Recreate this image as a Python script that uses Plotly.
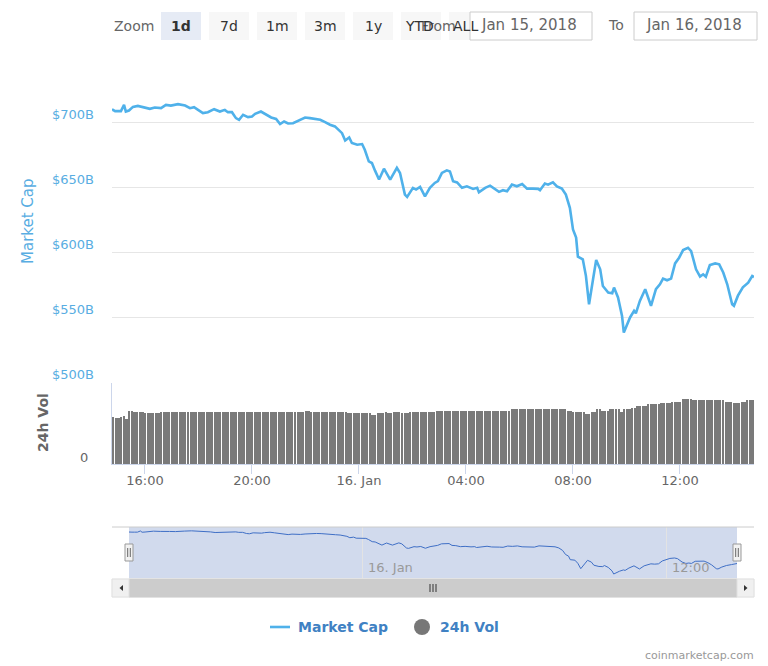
import pandas as pd
import plotly.graph_objects as go

# ---------------- data ----------------
START = pd.Timestamp("2018-01-15 14:46")
END = pd.Timestamp("2018-01-16 14:46")

# market cap (billions USD), minutes after START
mcap_minutes = [0, 2, 7, 13, 20, 27, 31, 38, 47, 58, 74, 85, 96, 110, 121, 132, 148, 164, 175, 184,
                193, 204, 215, 229, 242, 253, 260, 269, 278, 285, 294, 305, 314, 321, 334, 345, 357, 368, 377, 386,
                395, 406, 417, 433, 444, 455, 467, 478, 489, 500, 511, 516, 523, 532, 538, 550, 561, 567, 576, 583,
                590, 599, 610, 624, 639, 646, 657, 662, 675, 682, 691, 702, 713, 724, 731, 740, 751, 758, 765, 774,
                785, 796, 810, 819, 823, 837, 848, 859, 868, 877, 886, 897, 908, 920, 931, 944, 956, 960, 971, 978,
                989, 998, 1009, 1018, 1027, 1034, 1041, 1045, 1056, 1063, 1070, 1079, 1086, 1095, 1101, 1113, 1122, 1126, 1135, 1144,
                1148, 1162, 1171, 1175, 1184, 1196, 1200, 1209, 1220, 1229, 1236, 1245, 1254, 1263, 1272, 1281, 1292, 1299, 1310, 1319,
                1326, 1332, 1341, 1353, 1362, 1371, 1380, 1391, 1395, 1404, 1415, 1427, 1436, 1440]
mcap_values = [709.5, 710, 709, 709, 709, 713.8, 708.7, 709.5, 712.3, 713, 712, 710.8, 711.8, 711.3, 713.8, 713.3, 714.4, 713.3, 711.3, 712,
               710, 707.5, 708.2, 710.5, 708.7, 710, 708.2, 708.2, 703.6, 702.3, 706.2, 704.4, 704.9, 706.9, 708.7, 706.2, 704.1, 703, 699, 701,
               699.5, 699.7, 701.5, 704.1, 703.6, 703, 702.3, 700.5, 698.5, 697.2, 694.1, 692, 686.4, 688.7, 684.4, 683.1, 683.6, 679.2, 670.2, 669,
               663.1, 656.2, 664.6, 656.2, 665.2, 661.3, 644.6, 642.8, 649.8, 648.5, 650.5, 643.3, 649.8, 653.6, 655, 661.3, 663.3, 662.5, 654.9, 654,
               649.8, 651, 649, 649.8, 646.4, 649.8, 651.5, 648.5, 646.7, 648, 647.2, 652.3, 651, 652.8, 649.2, 649.2, 649, 648, 653.1, 652.3,
               654.1, 651, 649.2, 644.6, 634.4, 617.7, 611.4, 596.7, 594.7, 581.9, 560, 579.3, 594.1, 587, 574.1, 569, 568.5, 572.9, 565.2, 551,
               538.2, 549.8, 554.9, 553, 562.6, 571.6, 567.7, 558.8, 571.6, 575.4, 579.8, 578.5, 579.8, 591.5, 595.9, 601.8, 603.6, 601, 587, 581.3,
               583.1, 581.3, 590.2, 591.5, 590.8, 584.5, 575.4, 560, 558.8, 566.6, 573, 576.7, 581.8, 581]

# 24h volume (billions USD), one bar every 6 minutes
vol_values = [40.4, 39.5, 39.5, 40.4, 41.5, 39.0, 46.1, 46.1, 44.7, 44.7,
              44.7, 44.7, 43.8, 43.8, 44.2, 43.8, 43.8, 43.8, 44.7, 44.7,
              44.7, 44.7, 44.7, 44.7, 44.7, 44.7, 44.7, 44.7, 44.7, 44.7,
              44.7, 44.7, 44.7, 44.7, 44.7, 44.7, 44.7, 44.7, 44.7, 44.7,
              44.7, 44.7, 44.7, 44.7, 44.7, 44.7, 44.7, 44.7, 44.7, 44.7,
              44.7, 44.7, 44.7, 44.7, 44.7, 44.7, 44.7, 44.7, 44.7, 44.7,
              44.7, 44.7, 44.7, 44.7, 44.7, 44.7, 44.7, 44.7, 44.7, 44.7,
              44.7, 44.7, 45.8, 45.8, 44.7, 44.7, 44.7, 44.7, 44.7, 44.7,
              44.7, 44.7, 44.7, 44.7, 44.7, 44.7, 44.7, 44.7, 43.8, 43.8,
              43.8, 43.8, 43.8, 43.8, 43.8, 43.8, 43.8, 42.3, 42.3, 43.8,
              43.8, 43.8, 44.7, 43.8, 43.8, 44.7, 44.7, 44.7, 43.8, 43.8,
              43.8, 44.7, 44.7, 44.7, 44.7, 44.7, 44.7, 44.7, 44.7, 44.7,
              44.7, 46.1, 46.1, 46.1, 46.1, 46.1, 46.1, 46.1, 46.1, 46.1,
              46.1, 46.1, 46.1, 46.1, 46.1, 46.1, 46.1, 46.1, 46.1, 46.1,
              46.1, 46.1, 46.1, 46.1, 46.1, 46.1, 46.1, 46.1, 46.1, 47.3,
              47.3, 47.3, 47.3, 47.3, 47.3, 47.3, 47.3, 47.3, 47.3, 47.3,
              47.3, 47.3, 47.3, 47.3, 47.3, 47.3, 47.3, 47.3, 47.3, 47.3,
              46.1, 46.1, 44.7, 44.7, 44.7, 44.7, 44.7, 43.5, 43.5, 45.2,
              45.2, 47.3, 47.3, 46.1, 46.1, 46.1, 47.3, 47.3, 47.3, 47.3,
              45.2, 47.3, 47.3, 47.3, 48.6, 48.6, 50.4, 50.4, 50.4, 50.4,
              51.6, 51.6, 51.6, 51.6, 51.6, 53.0, 53.0, 53.0, 53.0, 53.8,
              53.8, 53.8, 53.8, 55.9, 55.9, 55.9, 55.9, 55.0, 55.0, 55.0,
              55.0, 55.0, 55.0, 55.0, 55.0, 55.0, 55.0, 55.0, 55.0, 53.8,
              53.8, 53.8, 53.0, 53.0, 53.0, 53.8, 53.8, 55.0, 55.0, 55.0]
VOL_STEP_MIN = 6

mcap_ticks = [500, 550, 600, 650, 700, 750]
mcap_tick_labels = ["$500B", "$550B", "$600B", "$650B", "$700B", ""]
time_ticks = ["2018-01-15 16:00", "2018-01-15 20:00", "2018-01-16 00:00",
              "2018-01-16 04:00", "2018-01-16 08:00", "2018-01-16 12:00"]
time_tick_labels = ["16:00", "20:00", "16. Jan", "04:00", "08:00", "12:00"]
nav_ticks = ["2018-01-16 00:00", "2018-01-16 12:00"]
nav_tick_labels = ["16. Jan", "12:00"]
zoom_buttons = ["1d", "7d", "1m", "3m", "1y", "YTD", "ALL"]
from_date = "Jan 15, 2018"
to_date = "Jan 16, 2018"

# ---------------- derived ----------------
mcap_time = START + pd.to_timedelta(mcap_minutes, unit="m")
vol_time = START + pd.to_timedelta([VOL_STEP_MIN / 2 + VOL_STEP_MIN * i for i in range(len(vol_values))], unit="m")

W, H = 768, 666
L, R = 112, 754
FONT = "DejaVu Sans"
LINE_C = "#4fb1ea"
LABEL_C = "#58ade2"


def px(x):
    return (x - L) / (R - L)


def py(y):
    return 1 - y / H


fig = go.Figure()
fig.add_trace(go.Scatter(x=mcap_time, y=mcap_values, mode="lines", name="Market Cap",
                         line=dict(color=LINE_C, width=2.6), xaxis="x", yaxis="y",
                         hoverinfo="skip", showlegend=False))
fig.add_trace(go.Bar(x=vol_time, y=vol_values, name="24h Vol", marker=dict(color="#7a7a7a", line=dict(width=0)),
                     width=VOL_STEP_MIN * 60 * 1000 * 0.68, xaxis="x2", yaxis="y2",
                     hoverinfo="skip", showlegend=False))
fig.add_trace(go.Scatter(x=mcap_time, y=mcap_values, mode="lines", line=dict(color="#3f6fc6", width=1),
                         xaxis="x3", yaxis="y3", hoverinfo="skip", showlegend=False))

shapes = []
annotations = []

# navigator mask, outline, handles
shapes.append(dict(type="rect", xref="paper", yref="paper", x0=px(129), x1=px(737), y0=py(578), y1=py(527),
                   fillcolor="rgba(102,133,194,0.3)", line=dict(width=0), layer="below"))
shapes.append(dict(type="line", xref="paper", yref="paper", x0=px(112), x1=px(754), y0=py(527), y1=py(527),
                   line=dict(color="#cccccc", width=1)))
for hx in (129, 737):
    shapes.append(dict(type="rect", xref="paper", yref="paper", x0=px(hx - 4), x1=px(hx + 4), y0=py(561), y1=py(544),
                       fillcolor="#f2f2f2", line=dict(color="#999999", width=1)))
    for dx in (-1.3, 1.3):
        shapes.append(dict(type="line", xref="paper", yref="paper", x0=px(hx + dx), x1=px(hx + dx),
                           y0=py(557), y1=py(548), line=dict(color="#666666", width=1)))

# scrollbar
shapes.append(dict(type="rect", xref="paper", yref="paper", x0=px(112), x1=px(754), y0=py(597), y1=py(579),
                   fillcolor="#f2f2f2", line=dict(color="#f2f2f2", width=1)))
shapes.append(dict(type="rect", xref="paper", yref="paper", x0=px(129), x1=px(737), y0=py(597), y1=py(579),
                   fillcolor="#cccccc", line=dict(color="#cccccc", width=1)))
for bx0, bx1 in ((112, 129), (737, 754)):
    shapes.append(dict(type="rect", xref="paper", yref="paper", x0=px(bx0), x1=px(bx1), y0=py(597), y1=py(579),
                       fillcolor="#f0f0f0", line=dict(color="#e0e0e0", width=1)))
shapes.append(dict(type="path", xref="paper", yref="paper",
                   path=f"M {px(123)},{py(585)} L {px(123)},{py(591)} L {px(119.5)},{py(588)} Z",
                   fillcolor="#333333", line=dict(width=0)))
shapes.append(dict(type="path", xref="paper", yref="paper",
                   path=f"M {px(744)},{py(585)} L {px(744)},{py(591)} L {px(747.5)},{py(588)} Z",
                   fillcolor="#333333", line=dict(width=0)))
for gx in (430, 433, 436):
    shapes.append(dict(type="line", xref="paper", yref="paper", x0=px(gx), x1=px(gx), y0=py(592), y1=py(584),
                       line=dict(color="#333333", width=1)))

# range selector buttons
annotations.append(dict(xref="paper", yref="paper", x=px(112), y=py(26), text="Zoom", showarrow=False,
                        xanchor="left", yanchor="middle", font=dict(family=FONT, size=14, color="#666666")))
for k, lab in enumerate(zoom_buttons):
    cx = 181 + 48 * k
    shapes.append(dict(type="rect", xref="paper", yref="paper", x0=px(cx - 20), x1=px(cx + 20), y0=py(40), y1=py(12),
                       fillcolor="#e6ebf5" if k == 0 else "#f7f7f7", line=dict(width=0)))
annotations.append(dict(xref="paper", yref="paper", x=px(419), y=py(26), text="From", showarrow=False,
                        xanchor="left", yanchor="middle", font=dict(family=FONT, size=14, color="#666666")))
for k, lab in enumerate(zoom_buttons):
    cx = 181 + 48 * k
    if lab == "YTD":
        cx = 419
    if lab == "ALL":
        cx = 466
    annotations.append(dict(xref="paper", yref="paper", x=px(cx), y=py(26),
                            text=f"<b>{lab}</b>" if k == 0 else lab, showarrow=False,
                            xanchor="center", yanchor="middle", font=dict(family=FONT, size=14, color="#333333")))

# date inputs
for bx0, bx1, txt in ((470, 592, from_date), (634, 757, to_date)):
    shapes.append(dict(type="rect", xref="paper", yref="paper", x0=px(bx0), x1=px(bx1), y0=py(40), y1=py(12),
                       fillcolor="white", line=dict(color="#cccccc", width=1), layer="above"))
    annotations.append(dict(xref="paper", yref="paper", x=px((bx0 + bx1) / 2 - 2), y=py(25.5), text=txt,
                            showarrow=False, xanchor="center", yanchor="middle",
                            font=dict(family=FONT, size=15, color="#666666")))
annotations.append(dict(xref="paper", yref="paper", x=px(616), y=py(25.5), text="To", showarrow=False,
                        xanchor="center", yanchor="middle", font=dict(family=FONT, size=14, color="#666666")))

# axis titles
annotations.append(dict(xref="paper", yref="paper", x=px(28), y=py(221), text="Market Cap", showarrow=False,
                        textangle=-90, xanchor="center", yanchor="middle",
                        font=dict(family=FONT, size=15, color=LABEL_C)))
annotations.append(dict(xref="paper", yref="paper", x=px(43), y=py(423), text="<b>24h Vol</b>", showarrow=False,
                        textangle=-90, xanchor="center", yanchor="middle",
                        font=dict(family=FONT, size=14, color="#666666")))

# navigator labels
for t, lab in zip(nav_ticks, nav_tick_labels):
    annotations.append(dict(xref="x3", yref="paper", x=t, y=py(567), text=lab, showarrow=False,
                            xanchor="left", yanchor="middle", xshift=3,
                            font=dict(family=FONT, size=13, color="#999999")))

# legend
shapes.append(dict(type="line", xref="paper", yref="paper", x0=px(270), x1=px(290), y0=py(627), y1=py(627),
                   line=dict(color=LINE_C, width=2.6)))
annotations.append(dict(xref="paper", yref="paper", x=px(296), y=py(627), text="<b>Market Cap</b>", showarrow=False,
                        xanchor="left", yanchor="middle", font=dict(family=FONT, size=14, color="#4081c3")))
shapes.append(dict(type="circle", xref="paper", yref="paper", x0=px(414), x1=px(430), y0=py(635), y1=py(619),
                   fillcolor="#777777", line=dict(width=0)))
annotations.append(dict(xref="paper", yref="paper", x=px(438), y=py(627), text="<b>24h Vol</b>", showarrow=False,
                        xanchor="left", yanchor="middle", font=dict(family=FONT, size=14, color="#4081c3")))

# credits
annotations.append(dict(xref="paper", yref="paper", x=px(756), y=py(655), text="coinmarketcap.com", showarrow=False,
                        xanchor="right", yanchor="middle", font=dict(family=FONT, size=11, color="#999999")))

fig.update_layout(
    width=W, height=H,
    margin=dict(l=L, r=W - R, t=0, b=0, pad=0, autoexpand=False),
    paper_bgcolor="white", plot_bgcolor="white",
    font=dict(family=FONT),
    showlegend=False,
    bargap=0,
    xaxis=dict(domain=[0, 1], anchor="y", range=[START, END], showticklabels=False, showgrid=False,
               zeroline=False, showline=False, fixedrange=True),
    yaxis=dict(domain=[py(382), py(58)], anchor="x", range=[500, 750], tickvals=mcap_ticks,
               ticktext=mcap_tick_labels, showgrid=True, gridcolor="#e6e6e6", gridwidth=1, zeroline=False,
               showline=False, ticks="", ticklabelshift=-8, ticklabelstandoff=17,
               tickfont=dict(family=FONT, size=13, color=LABEL_C)),
    xaxis2=dict(domain=[0, 1], anchor="y2", range=[START, END], tickvals=time_ticks, ticktext=time_tick_labels,
                ticks="outside", ticklen=9, tickcolor="#ccd6eb", showline=True, linecolor="#ccd6eb",
                ticklabelstandoff=-5,
                showgrid=False, zeroline=False, tickfont=dict(family=FONT, size=13, color="#666666")),
    yaxis2=dict(domain=[py(464), py(383)], anchor="x2", range=[0, 70], tickvals=[0], ticktext=["0"],
                showgrid=False, zeroline=False, showline=True, linecolor="#ccd6eb", ticks="",
                ticklabelshift=-7, ticklabelstandoff=20, tickfont=dict(family=FONT, size=13, color="#666666")),
    xaxis3=dict(domain=[px(129), px(737)], anchor="y3", range=[START, END], tickvals=nav_ticks,
                showticklabels=False, showgrid=True, gridcolor="#e3e3e3", zeroline=False, showline=False),
    yaxis3=dict(domain=[py(578), py(527)], anchor="x3", range=[522, 730], visible=False),
    shapes=shapes,
    annotations=annotations,
)

fig.write_html("out.html", config={"displayModeBar": False},
               post_script="document.body.style.margin='0px';document.body.style.padding='0px';")
